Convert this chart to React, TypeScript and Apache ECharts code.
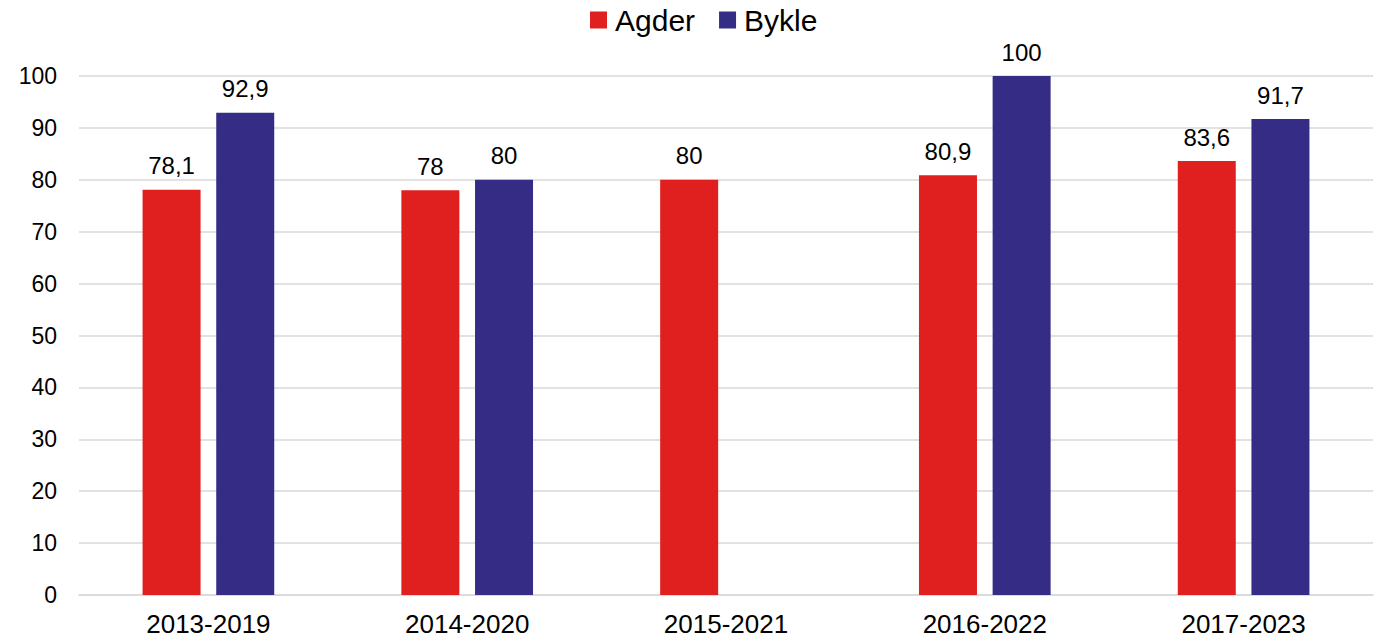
import React, { useEffect, useRef } from "react";
import * as echarts from "echarts";

const categories = ["2013-2019", "2014-2020", "2015-2021", "2016-2022", "2017-2023"];
const agder = [78.1, 78, 80, 80.9, 83.6];
const bykle: (number | null)[] = [92.9, 80, null, 100, 91.7];
const seriesNames = ["Agder", "Bykle"];
const colors = ["#E01F1F", "#352C86"];

const FONT = "'Liberation Sans', Arial, sans-serif";

export default function App() {
  const ref = useRef<HTMLDivElement>(null);
  useEffect(() => {
    document.body.style.margin = "0";
    if (!ref.current) return;
    const chart = echarts.init(ref.current, null, { renderer: "svg" });
    const fmt = (p: any) =>
      p.value == null ? "" : String(p.value).replace(".", ",");
    const label = {
      show: true,
      position: "top" as const,
      distance: 12,
      formatter: fmt,
      color: "#000",
      fontSize: 24,
      fontFamily: FONT,
    };
    chart.setOption({
      animation: false,
      textStyle: { fontFamily: FONT },
      legend: {
        data: seriesNames,
        top: 5,
        left: 590,
        padding: 0,
        itemWidth: 17,
        itemHeight: 17,
        itemGap: 24,
        icon: "rect",
        textStyle: { fontSize: 30, color: "#000", fontFamily: FONT, padding: [0, 0, 0, 3] },
      },
      grid: { left: 79, right: 7, top: 76, bottom: 43, containLabel: false },
      xAxis: {
        type: "category",
        data: categories,
        axisLine: { show: true, lineStyle: { color: "#D9D9D9", width: 1.5 } },
        axisTick: { show: false },
        axisLabel: { color: "#000", fontSize: 26, margin: 16, fontFamily: FONT },
      },
      yAxis: {
        type: "value",
        min: 0,
        max: 100,
        interval: 10,
        axisLine: { show: false },
        axisTick: { show: false },
        axisLabel: { color: "#000", fontSize: 23, margin: 22, fontFamily: FONT },
        splitLine: { lineStyle: { color: "#D9D9D9", width: 1.5 } },
      },
      series: [
        {
          name: seriesNames[0],
          type: "bar",
          data: agder,
          barWidth: 58,
          barGap: "27%",
          itemStyle: { color: colors[0] },
          label,
        },
        {
          name: seriesNames[1],
          type: "bar",
          data: bykle,
          barWidth: 58,
          barGap: "27%",
          itemStyle: { color: colors[1] },
          label,
        },
      ],
    });
    return () => chart.dispose();
  }, []);
  return <div ref={ref} style={{ width: 1380, height: 638 }} />;
}
